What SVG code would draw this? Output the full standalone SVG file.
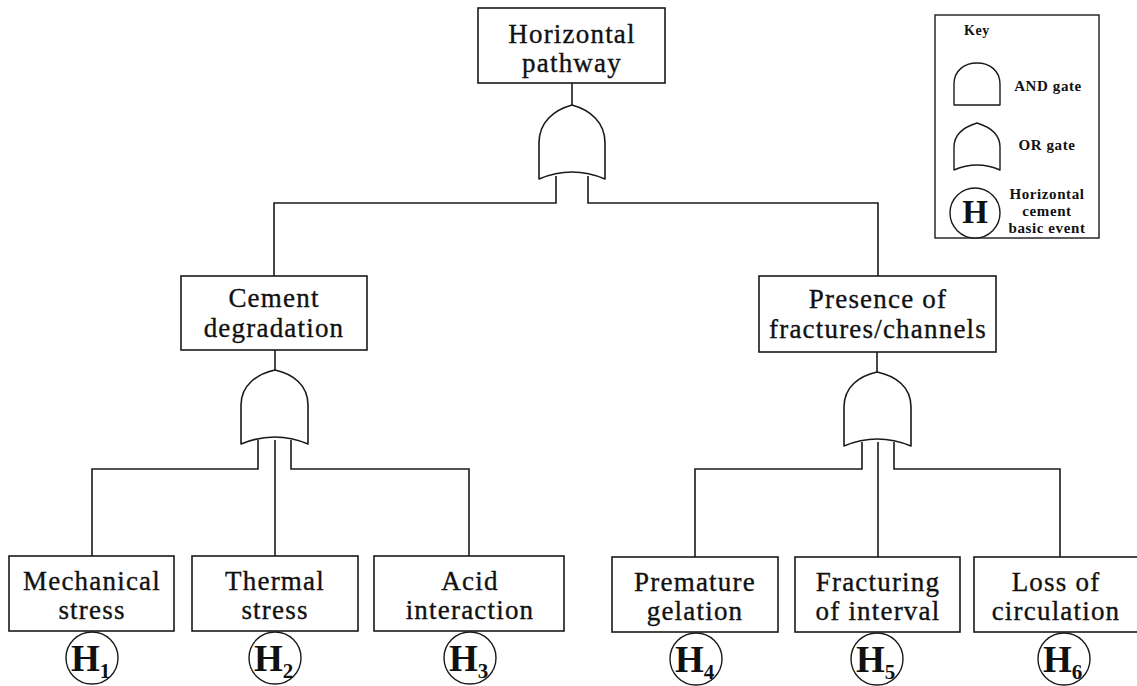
<svg xmlns="http://www.w3.org/2000/svg" width="1137" height="686" viewBox="0 0 1137 686">
<style>
  .box{fill:#fff;stroke:#1a1a1a;stroke-width:1.6}
  .gate{fill:#fff;stroke:#1a1a1a;stroke-width:1.6;stroke-linejoin:round}
  .ev{fill:#fff;stroke:#1a1a1a;stroke-width:1.4}
  .ln{fill:none;stroke:#1a1a1a;stroke-width:1.6}
  .lbl{font-family:"Liberation Serif","Times New Roman",serif;font-size:27px;letter-spacing:1.2px;fill:#111;stroke:#111;stroke-width:0.35;text-anchor:middle}
  .h{font-family:"Liberation Serif","Times New Roman",serif;font-size:37px;font-weight:bold;fill:#111}
  .sub{font-size:21px}
  .key{font-family:"Liberation Serif","Times New Roman",serif;font-size:15px;font-weight:bold;letter-spacing:0.6px;fill:#111;text-anchor:middle}
</style>

<g id="connectors">
  <path class="ln" d="M572,83 V106"/>
  <path class="ln" d="M556,176 V203 H274 V276"/>
  <path class="ln" d="M588,176 V203 H878 V276"/>
  <path class="ln" d="M275,350 V371"/>
  <path class="ln" d="M258,440 V469 H92 V556"/>
  <path class="ln" d="M275,440 V556"/>
  <path class="ln" d="M291,440 V469 H469 V556"/>
  <path class="ln" d="M877,352 V373"/>
  <path class="ln" d="M862,442 V469 H695 V557"/>
  <path class="ln" d="M878,442 V557"/>
  <path class="ln" d="M894,442 V469 H1060 V557"/>
</g>

<g id="node-horizontal-pathway">
  <rect class="box" x="478" y="8" width="187" height="75"/>
  <text class="lbl" x="572" y="43">Horizontal</text>
  <text class="lbl" x="572" y="72">pathway</text>
</g>
<g id="gate-top">
  <path class="gate" d="M539,179 Q572,165 605,179 L605,143 C605,122 590,110 572,105 C554,110 539,122 539,143 Z"/>
</g>

<g id="node-cement-degradation">
  <rect class="box" x="181" y="276" width="186" height="74"/>
  <text class="lbl" x="274" y="307">Cement</text>
  <text class="lbl" x="274" y="337">degradation</text>
</g>
<g id="gate-cement">
  <path class="gate" d="M241,444 Q275,430 308,444 L308,405 C308,385 293,374 275,370 C257,374 241,385 241,405 Z"/>
</g>

<g id="node-presence">
  <rect class="box" x="759" y="276" width="237" height="76"/>
  <text class="lbl" x="878" y="308">Presence of</text>
  <text class="lbl" x="878" y="338">fractures/channels</text>
</g>
<g id="gate-presence">
  <path class="gate" d="M844,446 Q877,432 911,446 L911,407 C911,387 896,376 877,372 C859,376 844,387 844,407 Z"/>
</g>

<g id="node-h1">
  <rect class="box" x="9" y="556" width="165" height="75"/>
  <text class="lbl" x="92" y="590">Mechanical</text>
  <text class="lbl" x="92" y="619">stress</text>
  <circle class="ev" cx="92" cy="658" r="26"/>
  <text class="h" x="71" y="671">H<tspan class="sub" dy="7">1</tspan></text>
</g>
<g id="node-h2">
  <rect class="box" x="192" y="556" width="166" height="75"/>
  <text class="lbl" x="275" y="590">Thermal</text>
  <text class="lbl" x="275" y="619">stress</text>
  <circle class="ev" cx="275" cy="658" r="26"/>
  <text class="h" x="254" y="671">H<tspan class="sub" dy="7">2</tspan></text>
</g>
<g id="node-h3">
  <rect class="box" x="374" y="556" width="190" height="75"/>
  <text class="lbl" x="470" y="590">Acid</text>
  <text class="lbl" x="470" y="619">interaction</text>
  <circle class="ev" cx="470" cy="658" r="26"/>
  <text class="h" x="449" y="671">H<tspan class="sub" dy="7">3</tspan></text>
</g>
<g id="node-h4">
  <rect class="box" x="612" y="557" width="166" height="75"/>
  <text class="lbl" x="695" y="591">Premature</text>
  <text class="lbl" x="695" y="620">gelation</text>
  <circle class="ev" cx="696" cy="659" r="26"/>
  <text class="h" x="675" y="672">H<tspan class="sub" dy="7">4</tspan></text>
</g>
<g id="node-h5">
  <rect class="box" x="795" y="557" width="165" height="75"/>
  <text class="lbl" x="878" y="591">Fracturing</text>
  <text class="lbl" x="878" y="620">of interval</text>
  <circle class="ev" cx="877" cy="659" r="26"/>
  <text class="h" x="856" y="672">H<tspan class="sub" dy="7">5</tspan></text>
</g>
<g id="node-h6">
  <rect class="box" x="974" y="557" width="170" height="75"/>
  <text class="lbl" x="1056" y="591">Loss of</text>
  <text class="lbl" x="1056" y="620">circulation</text>
  <circle class="ev" cx="1064" cy="659" r="26"/>
  <text class="h" x="1043" y="672">H<tspan class="sub" dy="7">6</tspan></text>
</g>

<g id="key">
  <rect class="box" x="935" y="15" width="164" height="223" style="stroke-width:1.4"/>
  <text class="key" x="977" y="35" style="font-size:14px">Key</text>
  <path class="gate" style="stroke-width:1.4" d="M954,105 L954,84 C954,71 964,63 977,63 C990,63 1000,71 1000,84 L1000,105 Z"/>
  <text class="key" x="1048" y="91">AND gate</text>
  <path class="gate" style="stroke-width:1.4" d="M954,170 Q977,160 1000,170 L1000,147 C1000,134 990,127 977,123 C964,127 954,134 954,147 Z"/>
  <text class="key" x="1047" y="150">OR gate</text>
  <circle class="ev" cx="975" cy="213" r="25"/>
  <text class="h" x="975" y="223" style="font-size:33px;text-anchor:middle">H</text>
  <text class="key" x="1047" y="199">Horizontal</text>
  <text class="key" x="1047" y="216">cement</text>
  <text class="key" x="1047" y="233">basic event</text>
</g>
</svg>
